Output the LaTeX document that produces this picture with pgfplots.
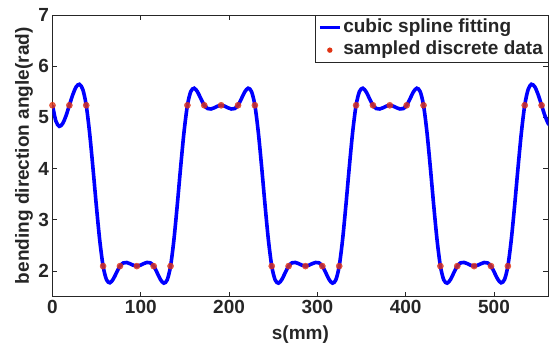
\documentclass[border=0pt]{standalone}
\usepackage{fontspec}
\setmainfont{Liberation Sans}
\usepackage{pgfplots}
\pgfplotsset{compat=1.18}
\definecolor{axgray}{RGB}{38,38,38}
\definecolor{mred}{RGB}{224,52,20}
\begin{document}
\begin{tikzpicture}[font=\fontsize{19}{22}\selectfont\bfseries]
\useasboundingbox (-52.5pt,-49.5pt) rectangle (496.5pt,296.5pt);
\begin{axis}[
  at={(0,0)}, anchor=south west,
  scale only axis, width=495.8pt, height=281.5pt,
  xmin=0, xmax=561.5, ymin=1.5, ymax=7,
  xtick={0,100,200,300,400,500}, ytick={2,3,4,5,6,7},
  tick align=inside, major tick length=5pt,
  axis line style={draw=axgray, line width=0.8pt},
  every tick/.style={draw=axgray, line width=0.8pt},
  tick label style={text=axgray, font=\fontsize{19}{22}\selectfont\bfseries},
  /pgf/number format/assume math mode=true,
  xlabel={s(mm)}, ylabel={bending direction angle(rad)},
  label style={text=axgray, font=\fontsize{19}{22}\selectfont\bfseries},
  xlabel style={at={(axis description cs:0.5,-0.151)}, anchor=base},
  ylabel style={at={(axis description cs:-0.0478,0.5)}, anchor=base},
  legend style={at={(1,1)}, anchor=north east, draw=axgray, line width=0.8pt, fill=white,
    inner xsep=3pt, inner ysep=1pt, row sep=0pt, column sep=0pt,
    nodes={inner xsep=2pt, inner ysep=2pt, text height=14pt, text depth=4.5pt, text=black!85,
      font=\fontsize{19}{22}\selectfont\bfseries}},
  legend cell align=left,
]
\addplot[draw={rgb,255:red,0;green,0;blue,255}, line width=3.6pt, smooth,
  legend image code/.code={\draw[draw={rgb,255:red,0;green,0;blue,255}, line width=3pt] (0pt,0pt) -- (20pt,0pt);}]
  table[row sep=\\] {
x y\\
0 5.236\\ 3.82 4.928\\ 7.64 4.825\\ 11.46 4.877\\ 15.28 5.030\\
19.1 5.236\\ 22.92 5.441\\ 26.74 5.595\\ 30.56 5.646\\ 34.38 5.543\\
38.2 5.236\\ 42.02 4.697\\ 45.84 4.008\\ 49.66 3.274\\ 53.48 2.601\\
57.3 2.094\\ 61.12 1.830\\ 64.94 1.768\\ 68.76 1.838\\ 72.58 1.970\\
76.4 2.094\\ 80.22 2.156\\ 84.04 2.164\\ 87.86 2.140\\ 91.68 2.109\\
95.5 2.094\\ 99.32 2.110\\ 103.14 2.142\\ 106.96 2.166\\ 110.78 2.158\\
114.6 2.094\\ 118.42 1.967\\ 122.24 1.832\\ 126.06 1.761\\ 129.88 1.824\\
133.7 2.094\\ 137.52 2.611\\ 141.34 3.295\\ 145.16 4.035\\ 148.98 4.718\\
152.8 5.236\\ 156.62 5.505\\ 160.44 5.569\\ 164.26 5.498\\ 168.08 5.363\\
171.9 5.236\\ 175.72 5.172\\ 179.54 5.164\\ 183.36 5.188\\ 187.18 5.220\\
191.0 5.236\\ 194.82 5.220\\ 198.64 5.188\\ 202.46 5.164\\ 206.28 5.172\\
210.1 5.236\\ 213.92 5.363\\ 217.74 5.498\\ 221.56 5.569\\ 225.38 5.505\\
229.2 5.236\\ 233.02 4.718\\ 236.84 4.035\\ 240.66 3.295\\ 244.48 2.611\\
248.3 2.094\\ 252.12 1.824\\ 255.94 1.761\\ 259.76 1.832\\ 263.58 1.967\\
267.4 2.094\\ 271.22 2.158\\ 275.04 2.165\\ 278.86 2.142\\ 282.68 2.110\\
286.5 2.094\\ 290.32 2.110\\ 294.14 2.142\\ 297.96 2.165\\ 301.78 2.158\\
305.6 2.094\\ 309.42 1.967\\ 313.24 1.832\\ 317.06 1.761\\ 320.88 1.824\\
324.7 2.094\\ 328.52 2.611\\ 332.34 3.295\\ 336.16 4.035\\ 339.98 4.718\\
343.8 5.236\\ 347.62 5.505\\ 351.44 5.569\\ 355.26 5.498\\ 359.08 5.363\\
362.9 5.236\\ 366.72 5.172\\ 370.54 5.164\\ 374.36 5.188\\ 378.18 5.220\\
382.0 5.236\\ 385.82 5.220\\ 389.64 5.188\\ 393.46 5.164\\ 397.28 5.172\\
401.1 5.236\\ 404.92 5.363\\ 408.74 5.498\\ 412.56 5.569\\ 416.38 5.505\\
420.2 5.236\\ 424.02 4.718\\ 427.84 4.035\\ 431.66 3.295\\ 435.48 2.611\\
439.3 2.094\\ 443.12 1.824\\ 446.94 1.761\\ 450.76 1.832\\ 454.58 1.967\\
458.4 2.094\\ 462.22 2.158\\ 466.04 2.166\\ 469.86 2.142\\ 473.68 2.110\\
477.5 2.094\\ 481.32 2.109\\ 485.14 2.140\\ 488.96 2.164\\ 492.78 2.156\\
496.6 2.094\\ 500.42 1.970\\ 504.24 1.838\\ 508.06 1.768\\ 511.88 1.830\\
515.7 2.094\\ 519.52 2.601\\ 523.34 3.274\\ 527.16 4.008\\ 530.98 4.697\\
534.8 5.236\\ 538.62 5.543\\ 542.44 5.646\\ 546.26 5.595\\ 550.08 5.441\\
553.9 5.236\\ 557.72 5.030\\ 561.54 4.877\\ 565.36 4.825\\ 569.18 4.928\\
573.0 5.236\\
};
\addlegendentry{cubic spline fitting}
\addplot[only marks, mark=*, mark size=3.1pt, mark options={draw=mred, fill=mred, opacity=0.8},
  legend image code/.code={\path[draw=none, fill=none] (0pt,0pt) -- (20pt,0pt); \fill[mred, draw=none] (10pt,0pt) circle (2.7pt);}]
  coordinates {
(0,5.236) (19.1,5.236) (38.2,5.236)
(57.3,2.094) (76.4,2.094) (95.5,2.094) (114.6,2.094) (133.7,2.094)
(152.8,5.236) (171.9,5.236) (191.0,5.236) (210.1,5.236) (229.2,5.236)
(248.3,2.094) (267.4,2.094) (286.5,2.094) (305.6,2.094) (324.7,2.094)
(343.8,5.236) (362.9,5.236) (382.0,5.236) (401.1,5.236) (420.2,5.236)
(439.3,2.094) (458.4,2.094) (477.5,2.094) (496.6,2.094) (515.7,2.094)
(534.8,5.236) (553.9,5.236)
};
\addlegendentry{sampled discrete data}
\end{axis}
\end{tikzpicture}
\end{document}
